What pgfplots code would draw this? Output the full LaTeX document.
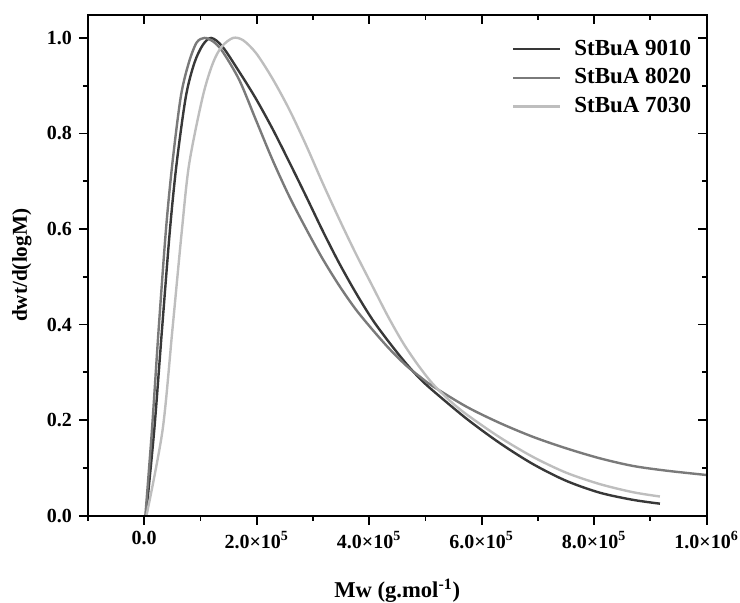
\documentclass[border=0pt]{standalone}
\usepackage{pgfplots}
\pgfplotsset{compat=1.18}
\usepackage{fontspec}
\setmainfont{Liberation Serif}
\definecolor{cdark}{HTML}{383838}
\definecolor{cmid}{HTML}{7A7A7A}
\definecolor{clight}{HTML}{BEBEBE}
\begin{document}
\begin{tikzpicture}
\useasboundingbox (-44pt,-43.25pt) rectangle (326pt,257.8pt);
\pgfplotsset{
  common/.style={
    scale only axis, width=309.3pt, height=250.3pt,
    xmin=-1e5, xmax=1e6, ymin=0, ymax=1.048,
    xtick={0,2e5,4e5,6e5,8e5,1e6},
    minor xtick={-1e5,1e5,3e5,5e5,7e5,9e5},
    ytick={0,0.2,0.4,0.6,0.8,1.0},
    minor ytick={0.1,0.3,0.5,0.7,0.9},
    major tick length=4.5pt, minor tick length=2.5pt,
    axis line style={line width=1pt},
    every tick/.style={black, line width=0.9pt},
    scaled x ticks=false, scaled y ticks=false,
  }
}
\begin{axis}[common,
  tick align=outside, xtick pos=left, ytick pos=left,
  xticklabels={\textbf{0.0},\textbf{2.0×10\textsuperscript{5}},\textbf{4.0×10\textsuperscript{5}},\textbf{6.0×10\textsuperscript{5}},\textbf{8.0×10\textsuperscript{5}},\textbf{1.0×10\textsuperscript{6}}},
  yticklabels={\textbf{0.0},\textbf{0.2},\textbf{0.4},\textbf{0.6},\textbf{0.8},\textbf{1.0}},
  tick label style={font=\bfseries},
  xlabel={\textbf{Mw (g.mol\textsuperscript{-1})}},
  ylabel={\textbf{dwt/d(logM)}},
  xlabel style={at={(axis description cs:0.5,-0.15)}, anchor=center, font=\fontsize{11.3}{13}\selectfont},
  ylabel style={at={(axis description cs:-0.107,0.5)}, anchor=center, font=\fontsize{10.6}{12}\selectfont},
  legend style={draw=none, fill=none, at={(axis description cs:0.992,0.967)}, anchor=north east, font=\fontsize{11.5}{13}\selectfont\bfseries, row sep=1.2pt, /tikz/every odd column/.append style={column sep=4.5pt}},
  legend cell align=left,
  legend image code/.code={\draw[#1] (0pt,0pt) -- (23.5pt,0pt);},
]
\addplot[cdark, line width=1.2pt, smooth, tension=0.5] table[x=x,y=y]{
x y
3e3 0
17.8e3 0.179
31.5e3 0.388
45.7e3 0.598
57.6e3 0.737
74e3 0.877
89e3 0.947
104e3 0.985
119e3 1.0
139e3 0.982
169e3 0.929
198e3 0.874
228e3 0.810
258e3 0.740
288e3 0.668
317e3 0.597
346e3 0.530
376e3 0.467
406e3 0.410
436e3 0.362
466e3 0.318
490e3 0.287
513e3 0.262
573e3 0.203
632e3 0.152
691e3 0.108
750e3 0.073
810e3 0.048
869e3 0.033
917e3 0.025
};
\addlegendentry{StBuA 9010}
\addplot[cmid, line width=1.2pt, smooth, tension=0.5] table[x=x,y=y]{
x y
2e3 0
13.7e3 0.179
25.5e3 0.388
38.6e3 0.598
50e3 0.737
65e3 0.877
79e3 0.947
93e3 0.99
107e3 1.0
122e3 0.993
139e3 0.972
169e3 0.912
198e3 0.830
228e3 0.745
258e3 0.668
288e3 0.600
317e3 0.538
347e3 0.481
376e3 0.432
406e3 0.389
436e3 0.349
466e3 0.314
490e3 0.291
513e3 0.271
573e3 0.228
632e3 0.194
691e3 0.165
750e3 0.141
810e3 0.120
869e3 0.104
929e3 0.094
1000e3 0.085
};
\addlegendentry{StBuA 8020}
\addplot[clight, line width=1.2pt, smooth, tension=0.5] table[x=x,y=y]{
x y
4e3 0
32.6e3 0.179
50e3 0.388
67e3 0.598
80e3 0.737
104e3 0.877
122e3 0.947
138e3 0.982
158e3 1.0
176e3 0.995
199e3 0.968
228e3 0.915
258e3 0.850
288e3 0.775
317e3 0.697
347e3 0.620
376e3 0.549
406e3 0.480
433e3 0.418
460e3 0.362
487e3 0.315
513e3 0.276
543e3 0.241
573e3 0.212
632e3 0.164
691e3 0.123
750e3 0.090
810e3 0.066
869e3 0.049
917e3 0.040
};
\addlegendentry{StBuA 7030}
\end{axis}
\begin{axis}[common,
  tick align=inside, xtick pos=right, ytick pos=right,
  xticklabels={}, yticklabels={},
]
\end{axis}
\end{tikzpicture}
\end{document}
